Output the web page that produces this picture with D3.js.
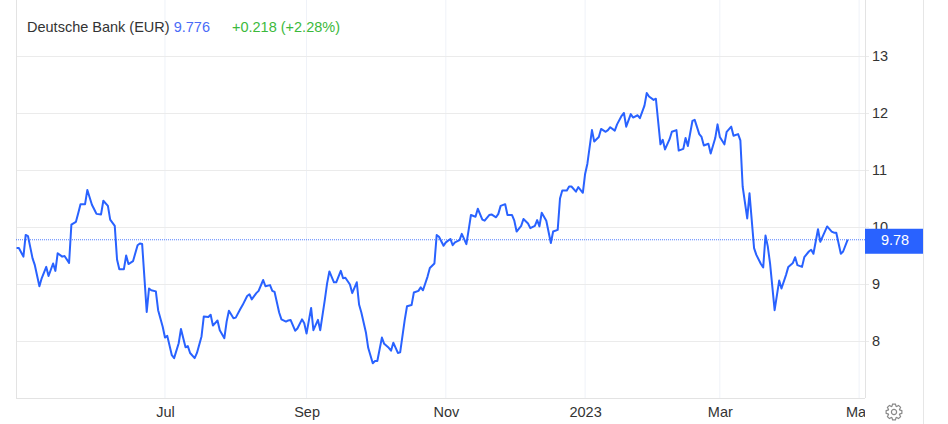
<!DOCTYPE html>
<html>
<head>
<meta charset="utf-8">
<script src="https://cdn.jsdelivr.net/npm/d3@7"></script>
<style>
  html, body { margin: 0; padding: 0; background: #fff; }
  svg { display: block; font-family: "Liberation Sans", Arial, sans-serif; }
</style>
</head>
<body>
<svg id="chart" width="948" height="424"></svg>
<script>
// ---------------- data ----------------
const dates = [
 "2022-04-27","2022-04-28","2022-04-30","2022-05-01","2022-05-02","2022-05-04","2022-05-05","2022-05-07","2022-05-08","2022-05-10",
 "2022-05-11","2022-05-13","2022-05-14","2022-05-15","2022-05-17","2022-05-18","2022-05-20","2022-05-21","2022-05-23","2022-05-24",
 "2022-05-25","2022-05-27","2022-05-28","2022-05-30","2022-05-31","2022-06-01","2022-06-03","2022-06-04","2022-06-06","2022-06-07",
 "2022-06-09","2022-06-10","2022-06-11","2022-06-13","2022-06-14","2022-06-15","2022-06-17","2022-06-19","2022-06-20","2022-06-21",
 "2022-06-23","2022-06-24","2022-06-25","2022-06-27","2022-06-28","2022-06-30","2022-07-01","2022-07-02","2022-07-04","2022-07-05",
 "2022-07-07","2022-07-08","2022-07-10","2022-07-11","2022-07-12","2022-07-14","2022-07-15","2022-07-17","2022-07-18","2022-07-20",
 "2022-07-21","2022-07-22","2022-07-24","2022-07-25","2022-07-27","2022-07-28","2022-07-29","2022-07-31","2022-08-01","2022-08-03",
 "2022-08-04","2022-08-06","2022-08-07","2022-08-08","2022-08-10","2022-08-11","2022-08-13","2022-08-14","2022-08-16","2022-08-17",
 "2022-08-18","2022-08-20","2022-08-21","2022-08-23","2022-08-24","2022-08-25","2022-08-27","2022-08-28","2022-08-30","2022-08-31",
 "2022-09-01","2022-09-03","2022-09-04","2022-09-06","2022-09-07","2022-09-09","2022-09-10","2022-09-11","2022-09-13","2022-09-14",
 "2022-09-16","2022-09-17","2022-09-18","2022-09-20","2022-09-21","2022-09-23","2022-09-24","2022-09-25","2022-09-27","2022-09-28",
 "2022-09-30","2022-10-01","2022-10-02","2022-10-04","2022-10-05","2022-10-07","2022-10-08","2022-10-09","2022-10-11","2022-10-12",
 "2022-10-14","2022-10-15","2022-10-17","2022-10-18","2022-10-20","2022-10-21","2022-10-22","2022-10-24","2022-10-25","2022-10-27",
 "2022-10-28","2022-10-29","2022-10-31","2022-11-01","2022-11-03","2022-11-04","2022-11-05","2022-11-07","2022-11-08","2022-11-10",
 "2022-11-11","2022-11-12","2022-11-14","2022-11-15","2022-11-17","2022-11-18","2022-11-20","2022-11-21","2022-11-23","2022-11-24",
 "2022-11-25","2022-11-27","2022-11-28","2022-11-30","2022-12-01","2022-12-02","2022-12-04","2022-12-05","2022-12-07","2022-12-08",
 "2022-12-10","2022-12-11","2022-12-12","2022-12-13","2022-12-15","2022-12-17","2022-12-18","2022-12-20","2022-12-21","2022-12-22",
 "2022-12-24","2022-12-25","2022-12-26","2022-12-28","2022-12-29","2022-12-31","2023-01-01","2023-01-02","2023-01-04","2023-01-05",
 "2023-01-07","2023-01-08","2023-01-10","2023-01-11","2023-01-12","2023-01-14","2023-01-15","2023-01-17","2023-01-18","2023-01-19",
 "2023-01-21","2023-01-22","2023-01-24","2023-01-25","2023-01-27","2023-01-28","2023-01-29","2023-01-31","2023-02-01","2023-02-03",
 "2023-02-04","2023-02-05","2023-02-07","2023-02-08","2023-02-10","2023-02-11","2023-02-13","2023-02-14","2023-02-15","2023-02-17",
 "2023-02-18","2023-02-20","2023-02-21","2023-02-22","2023-02-24","2023-02-25","2023-02-27","2023-02-28","2023-03-01","2023-03-03",
 "2023-03-04","2023-03-06","2023-03-07","2023-03-09","2023-03-10","2023-03-11","2023-03-13","2023-03-14","2023-03-16","2023-03-17",
 "2023-03-19","2023-03-20","2023-03-21","2023-03-22","2023-03-23","2023-03-25","2023-03-27","2023-03-28","2023-03-30","2023-03-31",
 "2023-04-02","2023-04-03","2023-04-04","2023-04-06","2023-04-07","2023-04-09","2023-04-10","2023-04-11","2023-04-13","2023-04-14",
 "2023-04-16","2023-04-17","2023-04-19","2023-04-20","2023-04-21","2023-04-23","2023-04-24","2023-04-26"
];
const prices = [
 9.63,9.63,9.48,9.86,9.84,9.45,9.33,8.96,9.10,9.30,
 9.14,9.36,9.23,9.54,9.48,9.49,9.37,10.04,10.09,10.24,
 10.40,10.40,10.65,10.39,10.31,10.23,10.22,10.46,10.37,10.13,
 10.02,9.43,9.26,9.26,9.50,9.35,9.40,9.68,9.71,9.70,
 8.51,8.92,8.89,8.87,8.54,8.25,8.06,8.09,7.75,7.70,
 7.96,8.21,7.89,7.91,7.79,7.70,7.79,8.08,8.43,8.42,
 8.46,8.27,8.36,8.19,8.05,8.34,8.53,8.40,8.41,8.56,
 8.63,8.79,8.82,8.73,8.84,8.88,9.07,8.96,8.98,8.88,
 8.86,8.50,8.38,8.34,8.36,8.37,8.18,8.22,8.38,8.31,
 8.13,8.58,8.19,8.37,8.19,8.72,9.01,9.22,9.03,9.03,
 9.23,9.10,9.11,8.99,8.84,9.03,8.64,8.50,8.15,7.88,
 7.61,7.65,7.65,8.06,7.95,7.88,7.83,7.97,7.79,7.80,
 8.37,8.61,8.63,8.85,8.88,8.94,8.89,9.13,9.28,9.36,
 9.86,9.83,9.67,9.73,9.79,9.68,9.73,9.77,9.88,9.70,
 9.95,10.21,10.18,10.32,10.13,10.11,10.21,10.22,10.17,10.23,
 10.37,10.40,10.21,10.21,10.11,9.92,10.02,10.14,10.06,9.98,
 10.02,10.12,10.01,10.25,10.11,9.72,9.92,9.95,10.50,10.64,
 10.64,10.71,10.71,10.62,10.70,10.60,10.93,11.11,11.70,11.50,
 11.58,11.72,11.67,11.70,11.75,11.69,11.80,11.95,12.00,11.76,
 11.98,11.92,11.96,11.91,12.13,12.35,12.29,12.23,12.25,11.45,
 11.53,11.36,11.54,11.67,11.70,11.34,11.37,11.56,11.42,11.86,
 11.88,11.63,11.58,11.43,11.46,11.29,11.56,11.80,11.58,11.45,
 11.67,11.76,11.60,11.63,11.52,10.71,10.15,10.59,9.63,9.51,
 9.35,9.29,9.85,9.66,9.36,8.54,9.06,8.92,9.16,9.30,
 9.37,9.47,9.33,9.30,9.47,9.57,9.60,9.53,9.96,9.74,
 9.92,10.01,9.92,9.90,9.90,9.53,9.57,9.78
];
const lastPrice = 9.776;
const change = "+0.218";
const changePct = "(+2.28%)";
const title = "Deutsche Bank (EUR)";
const yTicks = [8, 9, 10, 11, 12, 13];
const xTickDates = ["2022-07-01","2022-09-01","2022-11-01","2023-01-01","2023-03-01","2023-05-01"];
const xTickLabels = ["Jul","Sep","Nov","2023","Mar","May"];
const xDomain = ["2022-04-26T18:00:00","2023-05-03T14:00:00"];
const yDomain = [7.0, 13.982];

// ---------------- layout ----------------
const W = 948, H = 424;
const plotL = 16, plotR = 865, plotT = 0, plotB = 398;
const LINE_BLUE = "#2962ff";
const FONT = "Liberation Sans, Arial, sans-serif";

const parse = d3.isoParse;
const data = dates.map((d, i) => ({ date: parse(d), value: prices[i] }));

const x = d3.scaleTime().domain(xDomain.map(parse)).range([plotL, plotR]);
const y = d3.scaleLinear().domain(yDomain).range([plotB, plotT]);

const svg = d3.select("#chart");

svg.append("defs").append("clipPath").attr("id", "plotclip")
  .append("rect").attr("x", plotL).attr("y", -10).attr("width", plotR - plotL).attr("height", 60);

// vertical month gridlines
svg.append("g").selectAll("line").data(xTickDates).join("line")
  .attr("x1", d => x(parse(d))).attr("x2", d => x(parse(d)))
  .attr("y1", plotT).attr("y2", plotB)
  .attr("stroke", "#eff2f8").attr("stroke-width", 1);

// horizontal gridlines (right axis with ticks extended across)
const yAxis = d3.axisRight(y).tickValues(yTicks).tickSize(0).tickPadding(0).tickFormat(d3.format("d"));
const gy = svg.append("g").attr("transform", `translate(${plotR},0)`).call(yAxis);
gy.select(".domain").remove();
gy.selectAll(".tick line").attr("x1", plotL - plotR).attr("x2", 4)
  .attr("stroke", "#ebebeb").attr("stroke-width", 1);
gy.selectAll(".tick text").attr("x", 7).attr("fill", "#333").attr("font-size", 14.5)
  .attr("font-family", FONT);

// left border and right axis line
svg.append("line").attr("x1", plotL + 0.5).attr("x2", plotL + 0.5).attr("y1", 0).attr("y2", plotB)
  .attr("stroke", "#e3e3e3");
svg.append("line").attr("x1", plotR + 0.5).attr("x2", plotR + 0.5).attr("y1", 0).attr("y2", plotB)
  .attr("stroke", "#e3e3e3");
svg.append("line").attr("x1", 923.5).attr("x2", 923.5).attr("y1", 0).attr("y2", H)
  .attr("stroke", "#e6e6e6");

// bottom axis
const xAxis = d3.axisBottom(x).tickValues(xTickDates.map(parse)).tickSize(0).tickPadding(0)
  .tickFormat((d, i) => xTickLabels[i]);
const gx = svg.append("g").attr("transform", `translate(0,${plotB})`).attr("clip-path", "url(#plotclip)").call(xAxis);
gx.select(".domain").attr("stroke", "#e3e3e3").attr("d", `M${plotL},0.5H${plotR}`);
gx.selectAll(".tick text").attr("y", 19).attr("dy", 0).attr("fill", "#333").attr("font-size", 14.5)
  .attr("font-family", FONT);

// last price dotted line
svg.append("line")
  .attr("x1", plotL).attr("x2", plotR)
  .attr("y1", y(lastPrice)).attr("y2", y(lastPrice))
  .attr("stroke", LINE_BLUE).attr("stroke-width", 1).attr("stroke-dasharray", "1,1").attr("opacity", 0.8);

// price line
const line = d3.line().x(d => x(d.date)).y(d => y(d.value));
svg.append("path").datum(data)
  .attr("d", line).attr("fill", "none")
  .attr("stroke", LINE_BLUE).attr("stroke-width", 2).attr("stroke-linejoin", "round");

// price label box
const ly = y(lastPrice);
svg.append("rect").attr("x", plotR).attr("y", ly - 11).attr("width", 923 - plotR).attr("height", 25)
  .attr("fill", LINE_BLUE);
svg.append("text").attr("x", (plotR + 923) / 2 + 1).attr("y", ly + 1.5)
  .attr("text-anchor", "middle").attr("dominant-baseline", "middle")
  .attr("fill", "#fff").attr("font-size", 14.5).text(d3.format(".2f")(lastPrice));

// title
const t = svg.append("text").attr("x", 27).attr("y", 32).attr("font-size", 14.5);
t.append("tspan").attr("fill", "#333").text(title + " ");
t.append("tspan").attr("fill", "#4a6cf7").text(d3.format(".3f")(lastPrice));
t.append("tspan").attr("fill", "#3cb93c").attr("dx", 22).text(change + " " + changePct);

// gear icon
const gear = svg.append("g").attr("transform", "translate(894,412)");
const teeth = 8, rO = 8, rI = 6;
const pts = [];
for (let i = 0; i < teeth; i++) {
  const a0 = (i / teeth) * 2 * Math.PI;
  const s = Math.PI / teeth;
  [[a0 - s * 0.9, rI], [a0 - s * 0.45, rO], [a0 + s * 0.45, rO], [a0 + s * 0.9, rI]].forEach(([a, r]) => {
    pts.push([r * Math.cos(a), r * Math.sin(a)]);
  });
}
gear.append("path").attr("d", d3.line()(pts) + "Z").attr("fill", "none").attr("stroke", "#888").attr("stroke-width", 1.2);
gear.append("circle").attr("r", 2.6).attr("fill", "none").attr("stroke", "#888").attr("stroke-width", 1.2);
</script>
</body>
</html>
